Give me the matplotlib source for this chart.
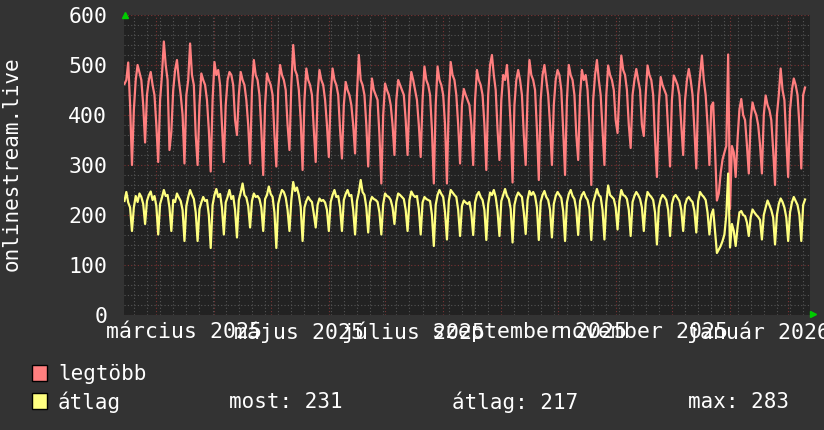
import datetime as dt
import matplotlib
matplotlib.use("Agg")
import matplotlib.pyplot as plt
import matplotlib.dates as mdates
from matplotlib.patches import Rectangle
from matplotlib.ticker import MultipleLocator
import pandas as pd

matplotlib.rcParams['font.family'] = 'DejaVu Sans Mono'

# napi értékek, 2025-02-12-től (hetente egy sor, vasárnaptól szombatig)
legtobb = [
    462, 470, 505, 420,
    300, 410, 470, 500, 485, 470, 420,
    345, 440, 470, 486, 460, 440, 380,
    306, 430, 480, 547, 500, 470, 330,
    366, 450, 490, 510, 470, 440, 400,
    303, 440, 470, 543, 480, 460, 360,
    300, 420, 483, 470, 460, 430, 370,
    287, 430, 506, 480, 490, 460, 380,
    306, 420, 470, 486, 480, 460, 390,
    360, 440, 486, 470, 460, 430, 380,
    303, 450, 510, 480, 470, 440, 370,
    280, 420, 483, 470, 460, 440, 360,
    297, 450, 500, 480, 470, 450, 380,
    330, 460, 540, 490, 480, 450, 390,
    290, 430, 493, 470, 460, 440, 370,
    306, 440, 490, 470, 460, 430, 380,
    316, 440, 493, 470, 460, 440, 370,
    313, 420, 466, 450, 440, 420, 380,
    323, 440, 520, 470, 460, 440, 380,
    297, 410, 473, 450, 440, 430, 360,
    263, 400, 463, 450, 440, 420, 380,
    320, 430, 470, 460, 450, 440, 390,
    320, 440, 486, 470, 450, 430, 380,
    316, 430, 497, 470, 460, 440, 370,
    263, 420, 497, 470, 460, 440, 380,
    263, 430, 506, 480, 470, 440, 380,
    303, 420, 452, 440, 430, 420, 380,
    300, 430, 490, 470, 460, 440, 380,
    290, 440, 500, 520, 480, 450, 370,
    310, 430, 480, 470, 500, 450, 380,
    265, 420, 470, 490, 470, 440, 360,
    300, 440, 510, 480, 470, 450, 370,
    270, 430, 480, 500, 470, 440, 380,
    300, 420, 470, 490, 480, 450, 370,
    280, 430, 500, 480, 470, 440, 360,
    310, 440, 490, 470, 480, 450, 380,
    260, 430, 480, 510, 470, 440, 370,
    300, 440, 499, 480, 470, 450, 390,
    364, 450, 519, 490, 480, 450, 380,
    334, 440, 470, 492, 470, 450, 380,
    358, 440, 499, 480, 470, 440, 350,
    276, 420, 476, 460, 450, 440, 370,
    297, 430, 479, 470, 460, 440, 380,
    320, 430, 470, 492, 470, 440, 370,
    293, 440, 480, 519, 470, 440, 380,
    300, 418, 425, 330, 229, 243, 284,
    311, 325, 338, 521, 212, 338, 325,
    276, 351, 411, 432, 400, 390, 340,
    283, 390, 425, 410, 400, 380, 340,
    283, 400, 439, 420, 410, 390, 330,
    260, 400, 440, 493, 450, 430, 350,
    276, 410, 450, 473, 460, 440, 380,
    293, 440, 455,
]

atlag = [
    228, 246, 225, 215,
    168, 215, 238, 226, 243, 236, 222,
    182, 228, 240, 247, 230, 238, 218,
    161, 222, 235, 250, 238, 240, 215,
    168, 230, 226, 243, 235, 228, 210,
    148, 218, 236, 250, 240, 232, 205,
    148, 212, 225, 236, 228, 230, 200,
    134, 220, 240, 252, 236, 242, 215,
    161, 225, 236, 250, 232, 238, 210,
    155, 230, 245, 263, 240, 235, 218,
    175, 228, 243, 236, 238, 232, 215,
    168, 232, 240, 257, 242, 236, 205,
    134, 222, 238, 250, 246, 235, 210,
    168, 230, 266, 248, 255, 240, 216,
    148, 215, 228, 236, 230, 226, 202,
    175, 220, 233, 228, 230, 225, 210,
    168, 226, 240, 250, 236, 238, 215,
    168, 230, 242, 250, 238, 240, 210,
    161, 228, 245, 270, 246, 240, 215,
    165, 225, 236, 232, 230, 226, 205,
    161, 222, 243, 238, 236, 230, 215,
    182, 226, 243, 240, 236, 232, 210,
    168, 230, 247, 240, 236, 238, 212,
    161, 225, 236, 232, 230, 228, 200,
    138, 220, 240, 250, 242, 236, 205,
    151, 228, 250, 245, 240, 236, 210,
    158, 218, 229, 225, 222, 226, 205,
    160, 225, 240, 246, 236, 230, 210,
    150, 222, 245, 240, 250, 236, 208,
    158, 228, 240, 252, 238, 232, 212,
    145, 220, 236, 245, 240, 236, 205,
    162, 230, 248, 240, 246, 238, 215,
    150, 226, 240, 248, 236, 230, 210,
    155, 222, 238, 246, 240, 234, 208,
    148, 225, 242, 250, 238, 232, 210,
    160, 228, 240, 246, 236, 230, 212,
    150, 224, 238, 252, 240, 236, 210,
    151, 225, 259, 240, 236, 232, 215,
    171, 228, 250, 240, 238, 232, 210,
    158, 226, 238, 246, 240, 232, 215,
    168, 225, 246, 240, 236, 230, 205,
    141, 215, 232, 240, 236, 230, 210,
    158, 222, 236, 240, 234, 228, 210,
    168, 220, 232, 236, 230, 226, 208,
    165, 228, 246, 240, 236, 230, 205,
    161, 200, 211, 168, 124, 131, 138,
    148, 161, 200, 283, 135, 182, 168,
    138, 175, 205, 208, 200, 198, 185,
    158, 195, 211, 205, 200, 196, 190,
    151, 200, 215, 229, 220, 210, 195,
    141, 200, 222, 233, 226, 215, 195,
    148, 205, 225, 236, 228, 220, 200,
    148, 220, 231,
]

napok = pd.date_range("2025-02-12", periods=len(atlag), freq="D")

honap_cimkek = ["március 2025", "május 2025", "július 2025",
                "szeptember 2025", "november 2025", "január 2026"]
cimke_datumok = pd.to_datetime(["2025-03-16", "2025-05-16", "2025-07-16",
                                "2025-09-16", "2025-11-16", "2026-01-16"])

# a jelmagyarázat számai (átlag sor)
most_ertek, atlag_ertek, max_ertek = 231, 217, 283

W, H = 824, 430
fig = plt.figure(figsize=(W / 100, H / 100), dpi=100, facecolor="#333333")
ax = fig.add_axes([124 / W, 115 / H, 686 / W, 300 / H])
ax.set_facecolor("#222222")

ax.plot(napok, legtobb, color="#ff7f7f", lw=1.6, zorder=3)
ax.plot(napok, atlag, color="#ffff80", lw=1.6, zorder=3)

kezdet = dt.datetime(2025, 2, 11, 18)
ax.set_xlim(kezdet, kezdet + dt.timedelta(days=365.9))
ax.set_ylim(0, 600)

# rácsvonalak: havi (piros) és heti (szürke), y: 100 / 20
ax.xaxis.set_major_locator(mdates.MonthLocator())
ax.xaxis.set_minor_locator(mdates.WeekdayLocator(byweekday=mdates.MO))
ax.xaxis.set_major_formatter(plt.NullFormatter())
ax.yaxis.set_major_locator(MultipleLocator(100))
ax.yaxis.set_minor_locator(MultipleLocator(20))
ax.grid(which="minor", color="#555555", lw=0.8, ls=(0, (1, 2)))
ax.grid(which="major", color="#7a3434", lw=0.8, ls=(0, (1, 2)))
ax.set_axisbelow(True)
ax.tick_params(which="both", length=0)
ax.tick_params(axis="y", colors="white", labelsize=15.5, pad=12)
for s in ax.spines.values():
    s.set_visible(False)

sec = ax.secondary_xaxis("bottom")
sec.set_xticks(mdates.date2num(cimke_datumok), labels=honap_cimkek)
sec.tick_params(length=0, colors="white", labelsize=15.5, pad=5)
for s in sec.spines.values():
    s.set_visible(False)

# zöld nyilak a tengelyek végén
ax.plot([0.0015], [1.0], transform=ax.transAxes, marker="^", ms=5,
        color="#00cc00", clip_on=False, ls="none", zorder=5)
ax.plot([1.004], [0.004], transform=ax.transAxes, marker=">", ms=5,
        color="#00cc00", clip_on=False, ls="none", zorder=5)

fig.text(12 / W, 1 - 164 / H, "onlinestream.live", rotation=90,
         color="white", fontsize=15, ha="center", va="center")

# jelmagyarázat
for yy, szin in [(365, "#ff7f7f"), (393, "#ffff80")]:
    fig.patches.append(Rectangle((32 / W, 1 - (yy + 16) / H), 15 / W, 16 / H,
                                 transform=fig.transFigure, facecolor=szin,
                                 edgecolor="black", lw=1))
fig.text(58 / W, 1 - 374 / H, "legtöbb", color="white", fontsize=15, va="center")
fig.text(58 / W, 1 - 402 / H, "átlag", color="white", fontsize=15, va="center")
fig.text(229 / W, 1 - 402 / H, f"most: {most_ertek}", color="white", fontsize=15, va="center")
fig.text(452 / W, 1 - 402 / H, f"átlag: {atlag_ertek}", color="white", fontsize=15, va="center")
fig.text(688 / W, 1 - 402 / H, f"max: {max_ertek}", color="white", fontsize=15, va="center")

fig.savefig("out.png", dpi=100, facecolor=fig.get_facecolor())
